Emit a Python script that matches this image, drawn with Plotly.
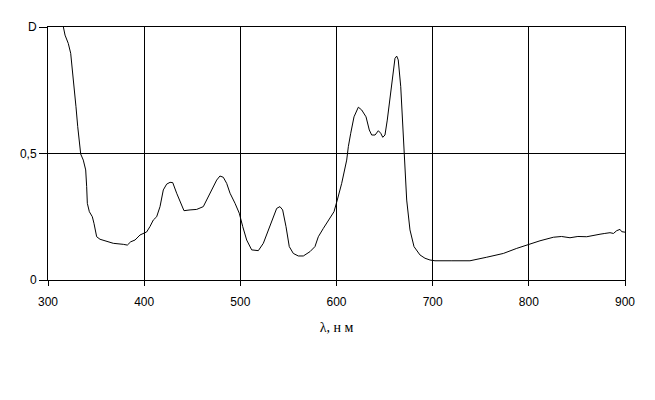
import plotly.graph_objects as go

wavelength = [316, 317.7, 321.1, 323.6, 325.3, 327, 329.1, 330.9, 332.6, 334, 336.7, 339.2,
              340.2, 340.9, 343, 346.1, 347.8, 350.6, 354.1, 361, 367.9, 378.3, 382.5, 386,
              390.5, 395.7, 399.8, 402.6, 406, 409.5, 413, 416.5, 419.9, 423.4, 426.9, 429.7,
              433.8, 439, 441.4, 447.7, 454.6, 461.5, 465, 470.2, 475.4, 478.8, 482.3, 485.8,
              489.3, 494.5, 498.9, 502.5, 506.6, 511.8, 518.7, 523.9, 529.1, 533.7, 537.8,
              541.2, 544, 547.5, 550.9, 555.1, 560.3, 565.5, 572.4, 577.6, 581.1, 586.3,
              591.5, 597.4, 600.8, 605.4, 610.6, 612.3, 614.8, 618.2, 622.7, 626.2, 630.7,
              634.1, 636.6, 640.1, 643.5, 646, 648.1, 650.4, 652.8, 655.6, 658.4, 660.8,
              662.6, 664.2, 666.8, 668.8, 670.5, 673, 676.4, 680.6, 686.8, 692, 697.2,
              702.4, 720, 738.8, 756.2, 773.5, 787.4, 801.2, 811.6, 825.5, 834, 842.8,
              851, 860.2, 866, 874, 879, 884.4, 888, 891.4, 894.8, 896.6, 900]
density = [1.0, 0.968, 0.935, 0.896, 0.83, 0.751, 0.685, 0.606, 0.527, 0.498, 0.474, 0.435,
           0.369, 0.303, 0.27, 0.25, 0.224, 0.171, 0.161, 0.154, 0.145, 0.141, 0.138, 0.151,
           0.158, 0.178, 0.185, 0.19, 0.211, 0.237, 0.25, 0.29, 0.356, 0.379, 0.386, 0.385,
           0.343, 0.29, 0.274, 0.277, 0.279, 0.29, 0.316, 0.356, 0.395, 0.411, 0.406, 0.382,
           0.343, 0.303, 0.264, 0.211, 0.158, 0.119, 0.116, 0.145, 0.198, 0.237, 0.283,
           0.29, 0.277, 0.211, 0.132, 0.105, 0.095, 0.095, 0.112, 0.132, 0.171, 0.204,
           0.237, 0.27, 0.316, 0.382, 0.474, 0.527, 0.58, 0.645, 0.683, 0.672, 0.645,
           0.593, 0.573, 0.573, 0.59, 0.58, 0.564, 0.573, 0.632, 0.725, 0.817, 0.876,
           0.885, 0.87, 0.764, 0.606, 0.474, 0.316, 0.198, 0.132, 0.099, 0.086, 0.079,
           0.076, 0.076, 0.076, 0.09, 0.105, 0.125, 0.142, 0.155, 0.169, 0.172, 0.167,
           0.172, 0.171, 0.176, 0.181, 0.184, 0.187, 0.184, 0.195, 0.2, 0.191, 0.189]

x_ticks = [300, 400, 500, 600, 700, 800, 900]
y_ticks = [0, 0.5, 1]
y_tick_text = ["0", "0,5", "D"]

fig = go.Figure(go.Scatter(x=wavelength, y=density, mode="lines",
                           line=dict(color="black", width=1), showlegend=False))

fig.update_layout(
    width=655, height=400,
    margin=dict(l=40, r=38, t=19, b=128),
    paper_bgcolor="white", plot_bgcolor="white",
    font=dict(family="Liberation Sans", size=12, color="black"),
)
fig.update_xaxes(range=[300, 900], tickvals=x_ticks, ticks="outside", ticklen=5,
                 tickcolor="black", showgrid=True, gridcolor="black", gridwidth=1,
                 showline=True, linecolor="black", linewidth=1, mirror=True, zeroline=False,
                 automargin=False, ticklabelstandoff=6,
                 title=dict(text="λ, н м", font=dict(family="Liberation Serif", size=14),
                            standoff=13))
fig.update_yaxes(range=[0, 1], tickvals=y_ticks, ticktext=y_tick_text, ticks="outside",
                 ticklen=8, tickcolor="black", showgrid=True, gridcolor="black", gridwidth=1,
                 showline=True, linecolor="black", linewidth=1, mirror=True, zeroline=False,
                 automargin=False)

fig.write_html("out.html")
